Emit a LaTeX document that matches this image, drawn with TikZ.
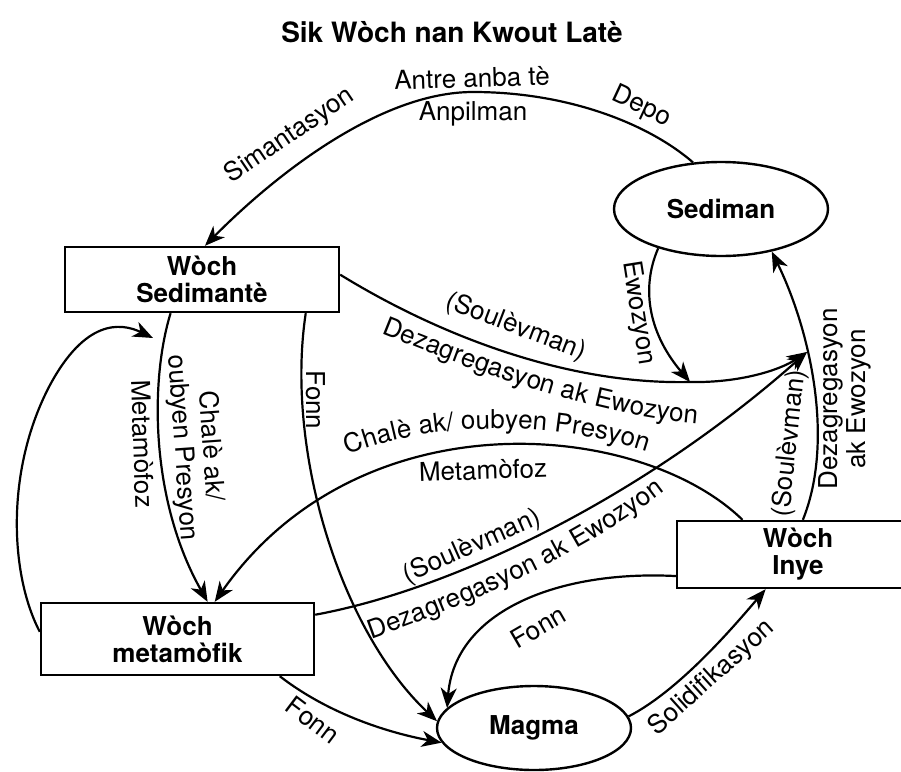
\documentclass[tikz,border=0pt]{standalone}
\usepackage{fontspec}
\setmainfont{TeX Gyre Heros}
\usetikzlibrary{arrows.meta,shapes.geometric,decorations.text}
\newcommand\lblfont{\fontsize{26}{28}\selectfont}
\begin{document}
\begin{tikzpicture}[x=1pt,y=-1pt,
  box/.style={draw, line width=2.4pt, rectangle, inner sep=0pt, align=center,
    font=\bfseries\fontsize{26}{27}\selectfont},
  oval/.style={draw, line width=2.4pt, ellipse, inner sep=0pt,
    font=\bfseries\fontsize{26}{27}\selectfont},
  conn/.style={line width=2.2pt, -{Stealth[length=20pt,width=16pt,inset=6pt]}},
  lbl/.style={font=\lblfont, inner sep=0pt, align=center},
  arctext/.style={decorate, decoration={text along path, text align=center,
    text={|\lblfont|#1}}}]
\useasboundingbox (0,0) rectangle (901,771);
\clip (0,0) rectangle (901,771);

% title
\node[font=\bfseries\fontsize{28}{30}\selectfont] (title) at (452,32) {Sik Wòch nan Kwout Latè};

% nodes
\node[oval, minimum width=214pt, minimum height=94pt] (sediman) at (721,209) {Sediman};
\node[oval, minimum width=194pt, minimum height=84pt] (magma) at (534,728) {Magma};
\node[box, minimum width=274pt, minimum height=65pt] (sedr) at (202,279.5) {Wòch\\Sedimantè};
\node[box, minimum width=273pt, minimum height=72pt] (metr) at (177.5,639) {Wòch\\metamòfik};
\node[box, minimum width=242pt, minimum height=67pt] (inye) at (798,554.5) {Wòch\\Inye};

\coordinate (J) at (807,352);
\coordinate (E) at (690,382);
\coordinate (loopend) at (153,338);

% connectors
\draw[conn] (sediman.121) .. controls (650,125) and (570,92) .. (473,92)
  .. controls (380,92) and (275,175) .. (sedr.85);
\draw[conn] (sediman.212) .. controls (640,290) and (650,335) .. (E);
\draw[conn] (sedr.2) .. controls (430,330) and (560,385) .. (E)
  .. controls (740,383) and (780,370) .. (J);
\draw[conn] (inye.82) .. controls (835,440) and (810,330) .. (sediman.-40);
\draw[conn] (sedr.-133) .. controls (150,380) and (150,500) .. (metr.51);
\draw[conn] (metr.177) .. controls (10,575) and (5,470) .. (50,385)
  .. controls (85,320) and (120,322) .. (loopend);
\draw[conn] (sedr.-18) .. controls (285,450) and (340,630) .. (magma.176);
\draw[conn] (metr.-20) .. controls (330,715) and (390,733) .. (magma.189);
\draw[conn] (inye.190) .. controls (560,570) and (455,610) .. (magma.167);
\draw[conn] (magma.7) .. controls (680,690) and (735,625) .. (inye.-133);
\draw[conn] (inye.148) .. controls (640,420) and (360,395) .. (metr.45);
\draw[conn] (metr.10) .. controls (450,590) and (640,500) .. (J);

% labels
\node[lbl, rotate=34] (l1) at (290,136) {Simantasyon};
\node[lbl, rotate=2] (l2) at (472,78) {Antre anba tè};
\node[lbl] (l3) at (473,114) {Anpilman};
\node[lbl, rotate=-25] (l4) at (641,107) {Depo};
\node[lbl, rotate=-81] (l5) at (638,313) {Ewozyon};
\node[lbl, rotate=-21] (l6) at (516,327) {(Soulèvman)};
\path[arctext={Dezagregasyon ak Ewozyon}] (360,325) .. controls (470,370) and (600,420) .. (720,425);
\node[lbl, rotate=-86] (l8) at (196,447) {Chalè ak/\\oubyen Presyon};
\node[lbl, rotate=-88] (l9) at (143,444) {Metamòfoz};
\node[lbl, rotate=-90] (l10) at (316,400) {Fonn};
\path[arctext={Chalè ak/ oubyen Presyon}] (330,463) .. controls (420,418) and (560,418) .. (665,458);
\node[lbl, rotate=2] (l12) at (483,470) {Metamòfoz};
\node[lbl, rotate=24] (l13) at (472,547) {(Soulèvman)};
\path[arctext={Dezagregasyon ak Ewozyon}] (340,650) .. controls (460,610) and (600,550) .. (690,470);
\node[lbl, rotate=84] (l15) at (790,443) {(Soulèvman)};
\node[lbl, rotate=90] (l16) at (845,399) {Dezagregasyon\\ak Ewozyon};
\node[lbl, rotate=-37] (l17) at (313,720) {Fonn};
\node[lbl, rotate=30] (l18) at (538,627) {Fonn};
\node[lbl, rotate=42] (l19) at (712,678) {Solidifikasyon};
\end{tikzpicture}
\end{document}
